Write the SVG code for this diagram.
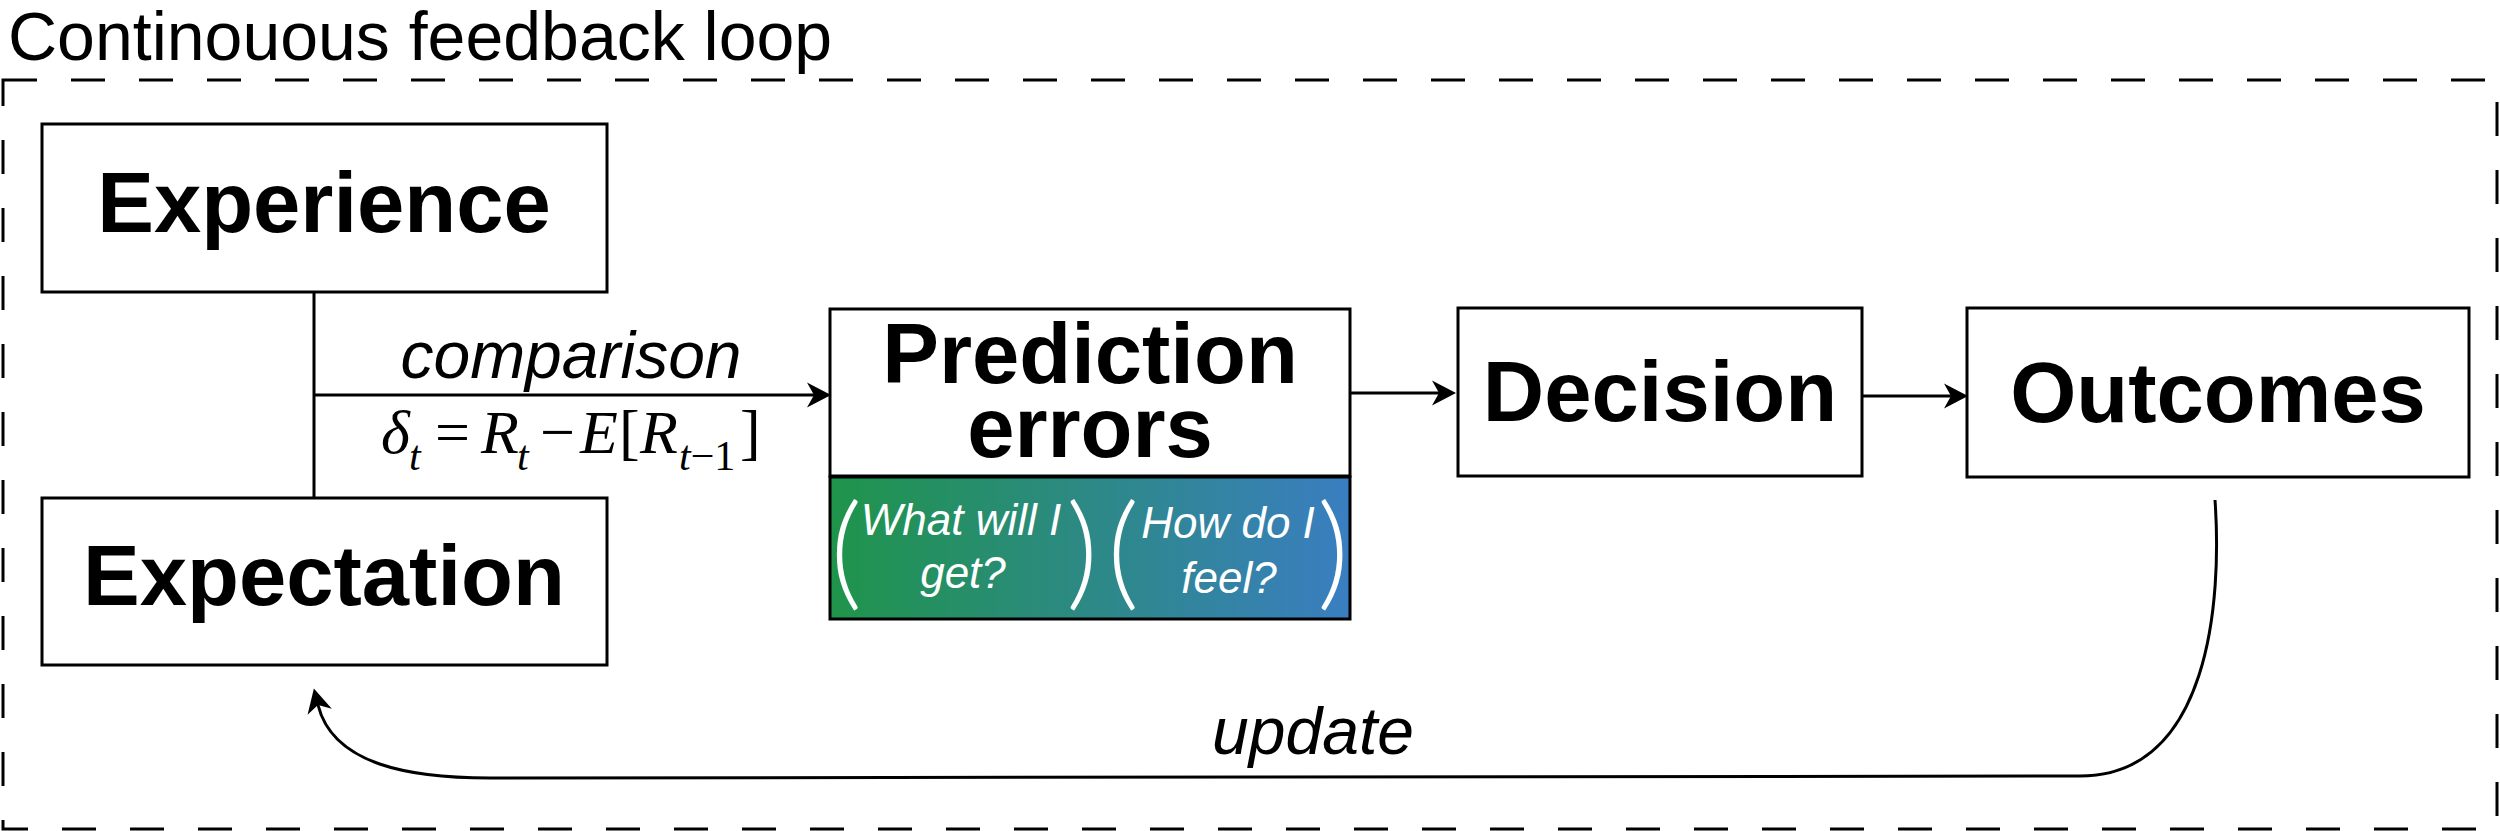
<svg xmlns="http://www.w3.org/2000/svg" width="2500" height="831" viewBox="0 0 2500 831">
  <defs>
    <style>
      .box { fill: #ffffff; stroke: #000000; stroke-width: 3; }
      .lbl { font-family: "Liberation Sans", Arial, sans-serif; font-weight: bold; font-size: 85px; fill: #000; text-anchor: middle; }
      .it { font-family: "Liberation Sans", Arial, sans-serif; font-style: italic; fill: #000; }
      .wt { font-family: "Liberation Sans", Arial, sans-serif; font-style: italic; font-size: 44px; fill: #fff; text-anchor: middle; }
      .par { font-family: "Lato", "Liberation Sans", sans-serif; font-weight: 300; font-size: 125px; fill: #fff; }
      .math { font-family: "Liberation Serif", "Times New Roman", serif; font-size: 62px; fill: #000; }
      .sub { font-size: 42px; }
      .conn { fill: none; stroke: #000; stroke-width: 3; }
    </style>
    <linearGradient id="grad" x1="0" y1="0" x2="1" y2="0">
      <stop offset="0" stop-color="#1f944a"/>
      <stop offset="1" stop-color="#3a7ec1"/>
    </linearGradient>
    <marker id="arr" markerUnits="userSpaceOnUse" markerWidth="30" markerHeight="30" viewBox="-26 -15 30 30" refX="-17" refY="0" orient="auto">
      <path d="M0,0 L-24,-12.5 L-17,0 L-24,12.5 Z" fill="#000"/>
    </marker>
  </defs>
  <rect width="2500" height="831" fill="#ffffff"/>

  <g id="frame">
    <rect x="3" y="80" width="2494" height="749" fill="none" stroke="#000" stroke-width="3" stroke-dasharray="34 34"/>
    <text x="8" y="60" font-family="Liberation Sans, Arial, sans-serif" font-size="68" fill="#000">Continouous feedback loop</text>
  </g>

  <g id="connectors">
    <line class="conn" x1="314" y1="292" x2="314" y2="498"/>
    <path class="conn" d="M314,395 L814,395" marker-end="url(#arr)"/>
    <path class="conn" d="M1350,393 L1439,393" marker-end="url(#arr)"/>
    <path class="conn" d="M1862,396 L1951,396" marker-end="url(#arr)"/>
    <path class="conn" d="M2215,500 C2222,600 2210,776 2080,776 L490,778 C410,778 333,765 318,705" marker-end="url(#arr)"/>
    <text class="it" x="571" y="378" font-size="66" text-anchor="middle">comparison</text>
    <text class="math" y="453"><tspan x="381" font-style="italic">δ</tspan><tspan class="sub" x="409" y="470" font-style="italic">t</tspan><tspan x="435" y="453">=</tspan><tspan x="481" font-style="italic">R</tspan><tspan class="sub" x="517" y="470" font-style="italic">t</tspan><tspan x="540" y="453">−</tspan><tspan x="580" font-style="italic">E</tspan><tspan x="619">[</tspan><tspan x="640" font-style="italic">R</tspan><tspan class="sub" x="679" y="470" font-style="italic">t</tspan><tspan class="sub">−1</tspan><tspan x="740" y="453">]</tspan></text>
    <text class="it" x="1313" y="754" font-size="66" text-anchor="middle">update</text>
  </g>

  <g id="experience">
    <rect class="box" x="42" y="124" width="565" height="168"/>
    <text class="lbl" x="324" y="232">Experience</text>
  </g>

  <g id="expectation">
    <rect class="box" x="42" y="498" width="565" height="167"/>
    <text class="lbl" x="324" y="605">Expectation</text>
  </g>

  <g id="prediction-errors">
    <rect class="box" x="830" y="309" width="520" height="167"/>
    <text class="lbl" x="1090" y="383">Prediction</text>
    <text class="lbl" x="1090" y="457">errors</text>
    <rect x="830" y="477" width="520" height="142" fill="url(#grad)" stroke="#000" stroke-width="3"/>
    <text class="par" x="830" y="594">(</text>
    <text class="par" x="1066" y="594">)</text>
    <text class="wt" x="961" y="535">What will I</text>
    <text class="wt" x="963" y="588">get?</text>
    <text class="par" x="1107" y="594">(</text>
    <text class="par" x="1317" y="594">)</text>
    <text class="wt" x="1228" y="538">How do I</text>
    <text class="wt" x="1229" y="593">feel?</text>
  </g>

  <g id="decision">
    <rect class="box" x="1458" y="308" width="404" height="168"/>
    <text class="lbl" x="1660" y="421">Decision</text>
  </g>

  <g id="outcomes">
    <rect class="box" x="1967" y="308" width="502" height="169"/>
    <text class="lbl" x="2218" y="422">Outcomes</text>
  </g>
</svg>
